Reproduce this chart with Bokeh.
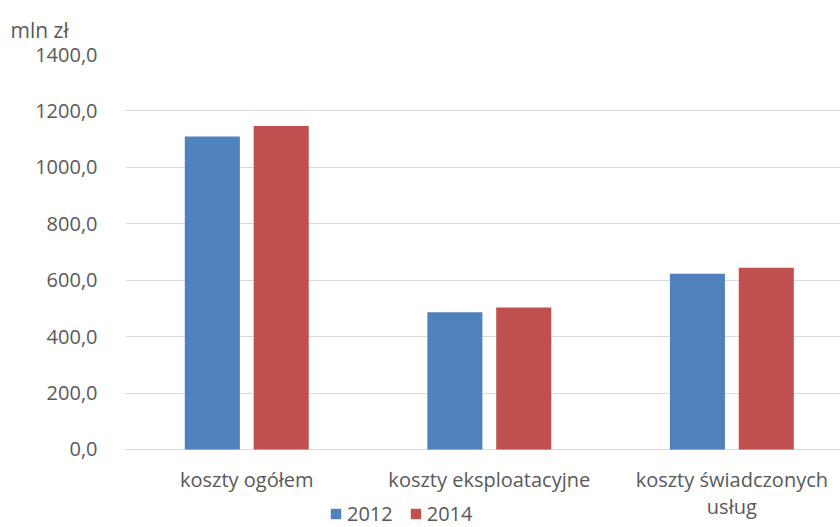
from bokeh.plotting import figure
from bokeh.models import Range1d, FixedTicker, Legend, LegendItem, ColumnDataSource
from bokeh.core.properties import value
from bokeh.embed import file_html
from bokeh.resources import INLINE

categories = ["koszty ogółem", "koszty eksploatacyjne", "koszty świadczonych\nusług"]
years = ["2012", "2014"]
values_2012 = [1109, 486, 623]
values_2014 = [1147, 503, 644]
y_ticks = [0, 200, 400, 600, 800, 1000, 1200, 1400]
y_tick_labels = ["0,0", "200,0", "400,0", "600,0", "800,0", "1000,0", "1200,0", "1400,0"]
unit_label = "mln zł"

FONT = "Open Sans"
TXT = "#595959"
GRID = "#d9d9d9"
colors = ["#4F81BD", "#C0504D"]

centers = [i + 0.5 for i in range(len(categories))]
offset = 0.142
bw = 0.227

# frame extends below zero so category labels and legend can live inside it
p = figure(width=840, height=527, output_backend="svg", toolbar_location=None,
           x_range=Range1d(0, 2.948), y_range=Range1d(-276.5, 1400),
           min_border_left=125, min_border_right=0, min_border_top=54, min_border_bottom=0,
           title=unit_label)
p.outline_line_color = None
p.background_fill_color = "white"
p.border_fill_color = "white"

p.title.text_font = FONT
p.title.text_font_size = "21px"
p.title.text_font_style = "normal"
p.title.text_color = TXT
p.title.align = "left"
p.title.offset = -115
p.title.standoff = 21

src1 = ColumnDataSource(dict(x=[c - offset for c in centers], top=values_2012))
src2 = ColumnDataSource(dict(x=[c + offset for c in centers], top=values_2014))
r1 = p.vbar(x="x", top="top", width=bw, source=src1, fill_color=colors[0], line_color=None)
r2 = p.vbar(x="x", top="top", width=bw, source=src2, fill_color=colors[1], line_color=None)

# y axis
p.yaxis.ticker = FixedTicker(ticks=y_ticks)
p.yaxis.major_label_overrides = {t: l for t, l in zip(y_ticks, y_tick_labels)}
p.yaxis.axis_line_color = None
p.yaxis.major_tick_line_color = None
p.yaxis.minor_tick_line_color = None
p.yaxis.major_label_standoff = 22
p.yaxis.major_label_text_font = FONT
p.yaxis.major_label_text_font_size = "20px"
p.yaxis.major_label_text_color = TXT

p.xaxis.visible = False
p.xgrid.grid_line_color = None
p.ygrid.ticker = FixedTicker(ticks=y_ticks)
p.ygrid.grid_line_color = GRID
p.ygrid.grid_line_width = 1

# category labels under the zero line
lab_src = ColumnDataSource(dict(x=centers, y=[0] * len(centers), text=categories))
p.text(x="x", y="y", text="text", source=lab_src, text_align="center", text_baseline="top",
       y_offset=17, text_font=value(FONT), text_font_size="20px", text_color=TXT,
       text_line_height=1.0)

legend = Legend(items=[LegendItem(label=years[0], renderers=[r1]),
                       LegendItem(label=years[1], renderers=[r2])],
                location=(204, 0), orientation="horizontal",
                glyph_width=13, glyph_height=13, label_standoff=5, spacing=16,
                padding=0, margin=0, border_line_color=None, background_fill_alpha=0,
                label_text_font=FONT, label_text_font_size="20px", label_text_color=TXT)
p.add_layout(legend, "center")

open("out.html", "w").write(file_html(p, INLINE))
